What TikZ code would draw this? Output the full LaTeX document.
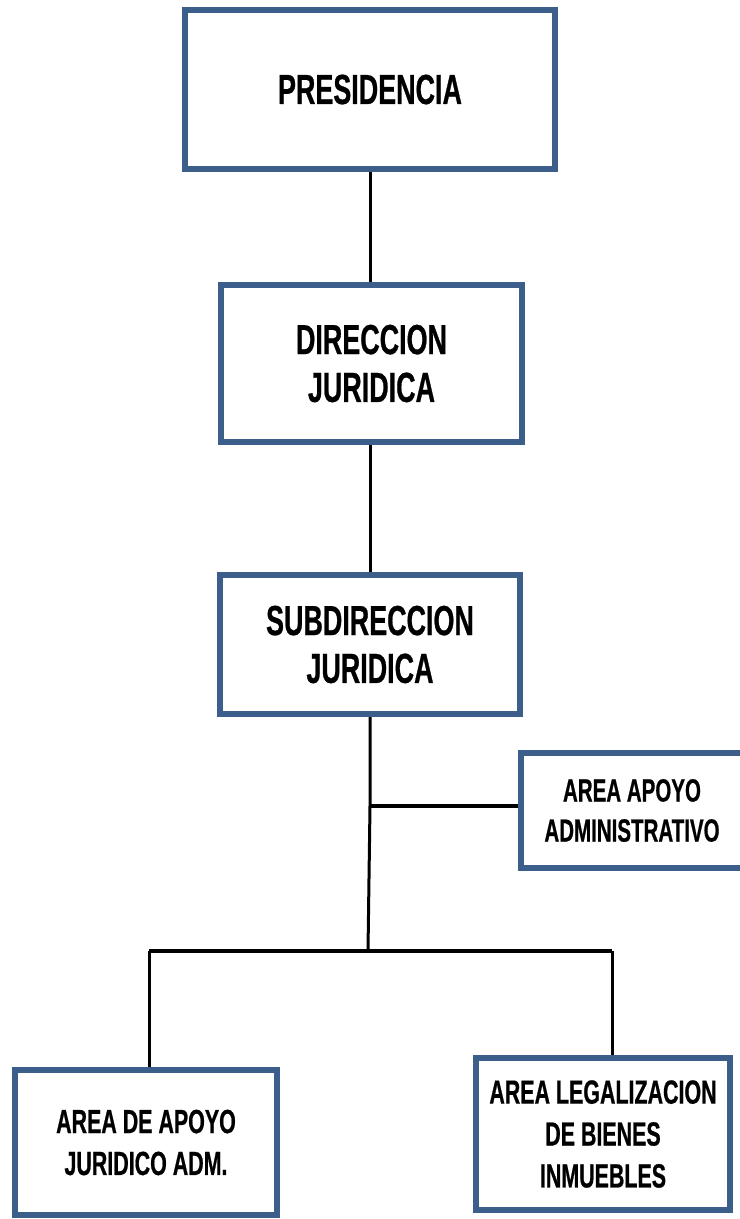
\documentclass[tikz,border=0pt]{standalone}
\usepackage{fontspec}
\newfontfamily\orgfont{Liberation Sans}[FakeStretch=0.64,FakeBold=0.6]
\definecolor{boxblue}{RGB}{59,94,138}
\begin{document}
\begin{tikzpicture}[x=0.025cm, y=-0.025cm, box_style/.style={rectangle,draw=boxblue,line width=0.15cm,fill=white,inner sep=0pt,align=center,font=\orgfont\bfseries\fontsize{29.9}{34}\selectfont},small_style/.style={box_style,font=\orgfont\bfseries\fontsize{23.8}{29.8}\selectfont},line_style/.style={draw=black, line width=0.075cm},bar_style/.style={draw=black, line width=0.1cm}]
      \useasboundingbox (0,0) rectangle (739,1219);
      \draw
        (370.0, 89.5) node[box_style,minimum width=9.25cm,minimum height=3.975cm] (pres){PRESIDENCIA}
        (371.5, 363.5) node[box_style,minimum width=7.525cm,minimum height=3.925cm] (dir){DIRECCION\\JURIDICA}
        (370.0, 644.5) node[box_style,minimum width=7.5cm,minimum height=3.475cm] (subdir){SUBDIRECCION\\JURIDICA}
        (632.0, 810.5) node[small_style,minimum width=5.55cm,minimum height=2.875cm,font=\orgfont\bfseries\fontsize{22.8}{28.5}\selectfont] (admin){AREA APOYO\\ADMINISTRATIVO}
        (146.0, 1142.5) node[small_style,minimum width=6.55cm,minimum height=3.625cm] (jurid){AREA DE APOYO\\JURIDICO ADM.}
        (603.0, 1134.0) node[small_style,minimum width=6.35cm,minimum height=3.8cm] (legal){AREA LEGALIZACION\\DE BIENES\\INMUEBLES};
      \coordinate (branch) at (370, 806);
      \coordinate (split) at (368, 951);
      \coordinate (left) at (149, 951);
      \coordinate (right) at (612, 951);
      \begin{scope}
        \draw[line_style] (pres.south) -- (pres.south |- dir.north);
        \draw[line_style] (dir.south -| pres.south) -- (pres.south |- subdir.north);
        \draw[line_style] (subdir.south) -- (branch) -- (split);
        \draw[bar_style] (branch) -- (branch -| admin.west);
        \draw[bar_style] (left) -- (right);
        \draw[line_style] (left) -- (left |- jurid.north);
        \draw[line_style] (right) -- (right |- legal.north);
      \end{scope}
    \end{tikzpicture}
\end{document}
